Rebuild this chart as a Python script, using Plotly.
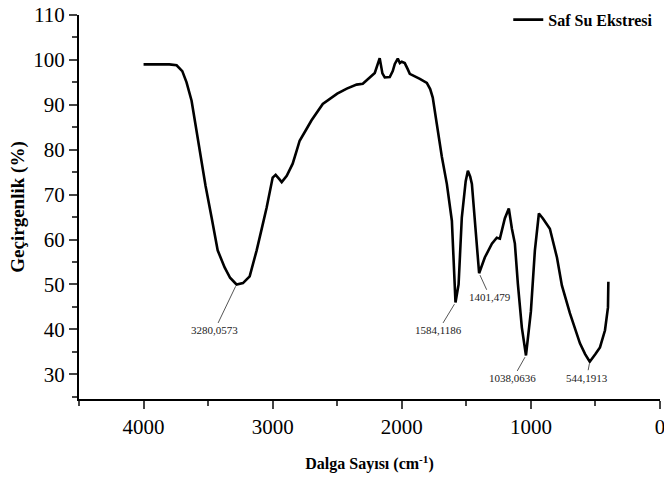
import plotly.graph_objects as go

wavenumber = [4000, 3900, 3800, 3744, 3700, 3667, 3628, 3600, 3566, 3520, 3473, 3426, 3372, 3330,
              3280, 3230, 3178, 3124, 3080, 3047, 3000, 2977, 2950, 2930, 2891, 2845, 2814, 2791,
              2740, 2700, 2612, 2500, 2426, 2350, 2302, 2250, 2209, 2171, 2150, 2132, 2093, 2070,
              2054, 2031, 2015, 2000, 1977, 1955, 1938, 1860, 1806, 1780, 1760, 1729, 1690, 1651,
              1612, 1584, 1560, 1535, 1505, 1488, 1470, 1457, 1434, 1401, 1357, 1302, 1264, 1240,
              1202, 1171, 1147, 1124, 1101, 1070, 1038, 1000, 969, 938, 907, 853, 798, 760, 698,
              620, 580, 544, 500, 465, 426, 410, 403, 400]
transmittance = [99.0, 99.0, 99.0, 98.8, 97.5, 95.0, 90.9, 86.0, 79.8, 72.0, 64.9, 57.6, 53.8, 51.5,
                 50.0, 50.3, 51.8, 57.6, 63.0, 67.1, 73.8, 74.4, 73.5, 72.8, 74.2, 76.9, 79.8, 82.0,
                 84.5, 86.5, 90.2, 92.5, 93.6, 94.5, 94.7, 96.0, 97.1, 100.4, 97.0, 96.1, 96.2, 97.5,
                 99.1, 100.3, 99.3, 99.6, 99.3, 98.0, 96.9, 95.8, 94.9, 93.5, 91.6, 85.8, 78.5, 72.4,
                 64.2, 46.0, 50.0, 64.9, 73.0, 75.3, 74.0, 72.4, 63.6, 52.5, 56.0, 59.1, 60.4, 60.2,
                 64.7, 66.9, 62.4, 59.1, 50.2, 40.4, 34.2, 44.0, 57.6, 65.8, 64.7, 62.4, 56.0, 49.8, 43.6,
                 36.9, 34.5, 32.8, 34.5, 36.0, 39.8, 43.0, 44.9, 50.6]

peak_x = [3280, 1584, 1401, 1038, 544]
peak_y = [50.0, 46.0, 52.5, 34.2, 32.8]
peak_labels = ["3280,0573", "1584,1186", "1401,479", "1038,0636", "544,1913"]
label_dx = [-22, -17, 11, -13, -3]
label_dy = [46, 28, 24, 23, 16]

y_ticks = [30, 40, 50, 60, 70, 80, 90, 100, 110]
x_ticks = [4000, 3000, 2000, 1000, 0]

serif = "Liberation Serif, Times New Roman, serif"

fig = go.Figure()
fig.add_trace(go.Scatter(x=wavenumber, y=transmittance, mode="lines",
                         line=dict(color="black", width=2.6), name="Saf Su Ekstresi"))

for px, py, txt, dx, dy in zip(peak_x, peak_y, peak_labels, label_dx, label_dy):
    fig.add_annotation(x=px, y=py, text=txt, showarrow=True, arrowhead=0, arrowwidth=1,
                       arrowcolor="#555555", ax=dx, ay=dy, standoff=2,
                       font=dict(family=serif, size=11, color="#222222"))

fig.update_layout(
    width=664, height=482,
    margin=dict(l=79, r=4, t=15, b=83, autoexpand=False),
    paper_bgcolor="white", plot_bgcolor="white",
    font=dict(family=serif, color="black"),
    showlegend=True,
    legend=dict(x=0.997, y=1.032, xanchor="right", yanchor="top", bgcolor="rgba(0,0,0,0)",
                font=dict(family=serif, size=16, color="black", weight="bold"),
                itemwidth=30),
    xaxis=dict(range=[4500, 0], tickvals=x_ticks, ticks="outside", ticklen=8, tickwidth=2,
               showline=True, linewidth=2, linecolor="black", showgrid=False, zeroline=False,
               automargin=False, ticklabeloverflow="allow",
               tickfont=dict(family=serif, size=21),
               minor=dict(dtick=500, tick0=0, ticks="outside", ticklen=5, tickwidth=1.5, showgrid=False),
               title=dict(text="<b>Dalga Sayısı (cm<sup>-1</sup>)</b>", font=dict(family=serif, size=16),
                          standoff=20)),
    yaxis=dict(range=[24.5, 110], tickvals=y_ticks, ticks="outside", ticklen=8, tickwidth=2,
               showline=True, linewidth=2, linecolor="black", showgrid=False, zeroline=False,
               automargin=False,
               tickfont=dict(family=serif, size=21),
               minor=dict(dtick=5, tick0=0, ticks="outside", ticklen=5, tickwidth=1.5, showgrid=False),
               title=dict(text="<b>Geçirgenlik (%)</b>", font=dict(family=serif, size=19),
                          standoff=4)),
)

fig.write_html("out.html", config={"displayModeBar": False},
               post_script="document.body.style.margin='0';document.body.style.padding='0';")
